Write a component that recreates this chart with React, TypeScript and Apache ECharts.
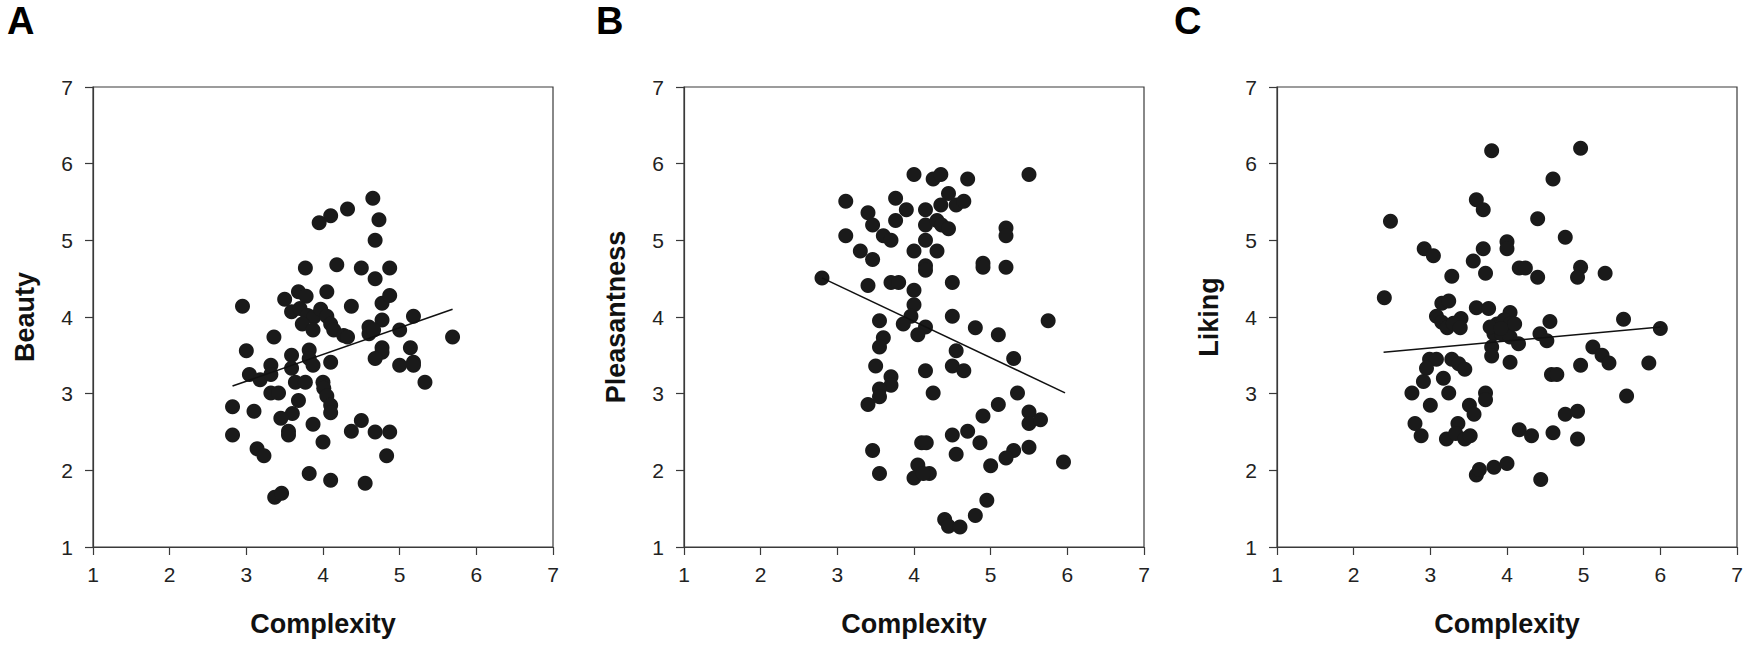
import React, { useEffect, useRef } from "react";
import * as echarts from "echarts";

// ---- Data ----
const axisTicks = [1, 2, 3, 4, 5, 6, 7];

const complexityA = [4.65,4.32,4.10,3.95,4.73,4.68,3.77,4.18,4.50,4.87,4.68,3.68,3.78,4.05,3.50,2.95,4.37,4.77,4.87,3.59,3.70,3.80,3.88,3.97,4.05,3.73,3.87,4.10,4.14,4.27,4.32,4.77,4.60,4.60,4.66,5.18,5.00,5.69,3.36,3.00,3.82,4.77,4.77,5.14,3.59,4.68,3.82,4.10,3.87,3.32,5.00,5.18,5.18,3.59,3.04,3.18,3.32,3.64,3.77,4.00,5.33,4.01,4.05,3.32,3.42,3.68,4.10,4.10,2.82,3.10,3.60,3.45,3.87,4.50,3.55,3.55,4.37,4.68,4.87,2.82,3.14,3.23,4.00,4.83,3.82,4.10,4.55,3.37,3.46];
const beautyA = [5.55,5.41,5.32,5.23,5.27,5.00,4.64,4.68,4.64,4.64,4.50,4.33,4.27,4.33,4.23,4.14,4.14,4.18,4.28,4.07,4.11,4.02,4.00,4.10,4.01,3.91,3.83,3.91,3.83,3.76,3.74,3.96,3.87,3.78,3.83,4.01,3.83,3.74,3.74,3.56,3.57,3.60,3.54,3.60,3.50,3.46,3.46,3.41,3.37,3.37,3.37,3.41,3.37,3.33,3.25,3.18,3.25,3.15,3.15,3.15,3.15,3.07,2.97,3.01,3.01,2.91,2.85,2.75,2.83,2.77,2.74,2.68,2.60,2.65,2.51,2.46,2.51,2.50,2.50,2.46,2.28,2.19,2.37,2.19,1.96,1.87,1.83,1.65,1.70];
const fitA = [[2.82, 3.10], [5.69, 4.10]];

const complexityB = [4.00,4.25,4.35,4.70,5.50,3.11,3.76,4.45,3.40,3.90,4.15,4.35,4.55,4.65,3.46,3.76,4.15,4.30,4.36,4.45,5.20,5.20,3.11,3.60,3.70,4.15,3.30,3.46,4.00,4.30,4.90,4.90,5.20,4.15,4.15,2.80,3.40,3.70,3.80,4.50,4.00,4.00,3.96,4.50,5.75,3.55,3.86,4.15,4.05,4.80,5.10,3.60,3.55,4.55,3.50,4.15,4.50,4.65,5.30,3.70,3.70,3.55,3.55,3.40,4.25,5.35,5.10,4.90,5.50,5.50,5.65,4.50,4.70,4.86,4.10,4.16,3.46,4.55,5.30,5.20,5.50,5.00,5.95,3.55,4.05,4.00,4.20,4.12,4.95,4.80,4.40,4.45,4.60];
const pleasantnessB = [5.86,5.80,5.86,5.80,5.86,5.51,5.55,5.61,5.36,5.40,5.40,5.46,5.46,5.51,5.20,5.26,5.20,5.26,5.20,5.15,5.16,5.06,5.06,5.06,5.00,5.00,4.86,4.75,4.86,4.86,4.70,4.65,4.65,4.67,4.61,4.51,4.41,4.45,4.45,4.45,4.35,4.16,4.01,4.01,3.95,3.95,3.91,3.87,3.77,3.86,3.77,3.73,3.61,3.56,3.36,3.30,3.36,3.30,3.46,3.22,3.11,3.06,2.96,2.86,3.01,3.01,2.86,2.71,2.76,2.61,2.66,2.46,2.51,2.36,2.36,2.36,2.26,2.21,2.26,2.16,2.30,2.06,2.11,1.96,2.07,1.90,1.96,1.96,1.61,1.41,1.36,1.27,1.26];
const fitB = [[2.80, 4.51], [5.97, 3.01]];

const complexityC = [3.80,4.96,4.60,3.60,3.69,2.48,4.40,4.76,4.00,4.00,3.69,2.92,3.04,3.56,3.28,3.72,4.16,4.24,4.40,4.96,4.92,5.28,2.40,3.15,3.24,3.60,3.76,4.04,3.08,3.40,4.56,5.52,6.00,3.15,3.22,3.30,3.39,3.87,3.96,4.04,3.83,3.93,4.04,4.15,4.10,3.78,3.92,3.80,3.80,4.04,4.43,4.52,5.12,5.24,5.33,4.96,5.85,4.58,4.65,5.56,2.99,3.08,2.95,3.28,3.37,3.45,2.91,3.17,2.76,3.24,3.00,3.72,3.72,3.51,3.57,2.80,2.88,3.36,3.21,3.33,3.45,3.52,4.16,4.32,4.60,4.76,4.92,4.92,3.60,3.64,3.83,4.00,4.44];
const likingC = [6.17,6.20,5.80,5.53,5.40,5.25,5.28,5.04,4.98,4.89,4.89,4.89,4.80,4.73,4.53,4.57,4.64,4.64,4.52,4.65,4.52,4.57,4.25,4.18,4.21,4.12,4.11,4.06,4.01,3.98,3.94,3.97,3.85,3.93,3.86,3.92,3.86,3.91,3.96,3.91,3.78,3.78,3.74,3.65,3.91,3.87,3.85,3.61,3.49,3.41,3.78,3.69,3.61,3.50,3.40,3.37,3.40,3.25,3.25,2.97,3.45,3.45,3.33,3.45,3.39,3.32,3.16,3.20,3.01,3.01,2.85,3.01,2.92,2.85,2.73,2.61,2.45,2.61,2.41,2.48,2.41,2.45,2.53,2.45,2.49,2.73,2.77,2.41,1.94,2.01,2.04,2.09,1.88];
const fitC = [[2.39, 3.54], [6.00, 3.87]];

const panelLetters = ["A", "B", "C"];
const yTitles = ["Beauty", "Pleasantness", "Liking"];
const xTitle = "Complexity";

const FONT = "'Liberation Sans', Arial, Helvetica, sans-serif";
const AXIS_COLOR = "#3a3a3a";
const DOT_COLOR = "#1a1a1a";

const pair = (xs: number[], ys: number[]) => xs.map((x, i) => [x, ys[i]]);

export default function App() {
  const ref = useRef<HTMLDivElement>(null);

  useEffect(() => {
    if (!ref.current) return;
    const chart = echarts.init(ref.current, undefined, { renderer: "svg" });

    const lefts = [93, 684, 1277];
    const letterX = [7, 596, 1174];
    const scatterData = [
      pair(complexityA, beautyA),
      pair(complexityB, pleasantnessB),
      pair(complexityC, likingC),
    ];
    const fits = [fitA, fitB, fitC];

    const grids = lefts.map((l) => ({
      left: l,
      top: 87,
      width: 460,
      height: 460,
      show: true,
      borderColor: AXIS_COLOR,
      borderWidth: 1.2,
      backgroundColor: "transparent",
    }));

    const axisCommon = {
      type: "value" as const,
      min: axisTicks[0],
      max: axisTicks[axisTicks.length - 1],
      interval: 1,
      splitLine: { show: false },
      axisLine: { show: true, lineStyle: { color: AXIS_COLOR, width: 1.2 } },
      axisTick: { show: true, length: 8, lineStyle: { color: AXIS_COLOR, width: 1.2 } },
      nameLocation: "middle" as const,
    };

    const xAxes = lefts.map((_, i) => ({
      ...axisCommon,
      gridIndex: i,
      name: xTitle,
      nameGap: 63,
      nameTextStyle: { fontFamily: FONT, fontSize: 27, fontWeight: "bold", color: "#111" },
      axisLabel: { fontFamily: FONT, fontSize: 21, color: "#222", margin: 17 },
    }));

    const yAxes = lefts.map((_, i) => ({
      ...axisCommon,
      gridIndex: i,
      name: yTitles[i],
      nameGap: 55,
      nameTextStyle: { fontFamily: FONT, fontSize: 27, fontWeight: "bold", color: "#111" },
      axisLabel: { fontFamily: FONT, fontSize: 21, color: "#222", margin: 20 },
    }));

    const series: any[] = [];
    scatterData.forEach((d, i) => {
      series.push({
        type: "scatter",
        xAxisIndex: i,
        yAxisIndex: i,
        data: d,
        symbol: "circle",
        symbolSize: 15,
        itemStyle: { color: DOT_COLOR, opacity: 1 },
        z: 2,
      });
      series.push({
        type: "line",
        xAxisIndex: i,
        yAxisIndex: i,
        data: fits[i],
        showSymbol: false,
        symbol: "none",
        lineStyle: { color: "#111", width: 1.6 },
        z: 3,
      });
    });

    const option = {
      animation: false,
      backgroundColor: "#ffffff",
      grid: grids,
      xAxis: xAxes,
      yAxis: yAxes,
      series,
      graphic: panelLetters.map((t, i) => ({
        type: "text",
        left: letterX[i],
        top: 2,
        style: {
          text: t,
          fontFamily: FONT,
          fontSize: 38,
          fontWeight: "bold",
          fill: "#000",
        },
      })),
    };

    chart.setOption(option);
    return () => chart.dispose();
  }, []);

  return (
    <div
      ref={ref}
      style={{ position: "fixed", left: 0, top: 0, width: 1750, height: 648, background: "#fff" }}
    />
  );
}
